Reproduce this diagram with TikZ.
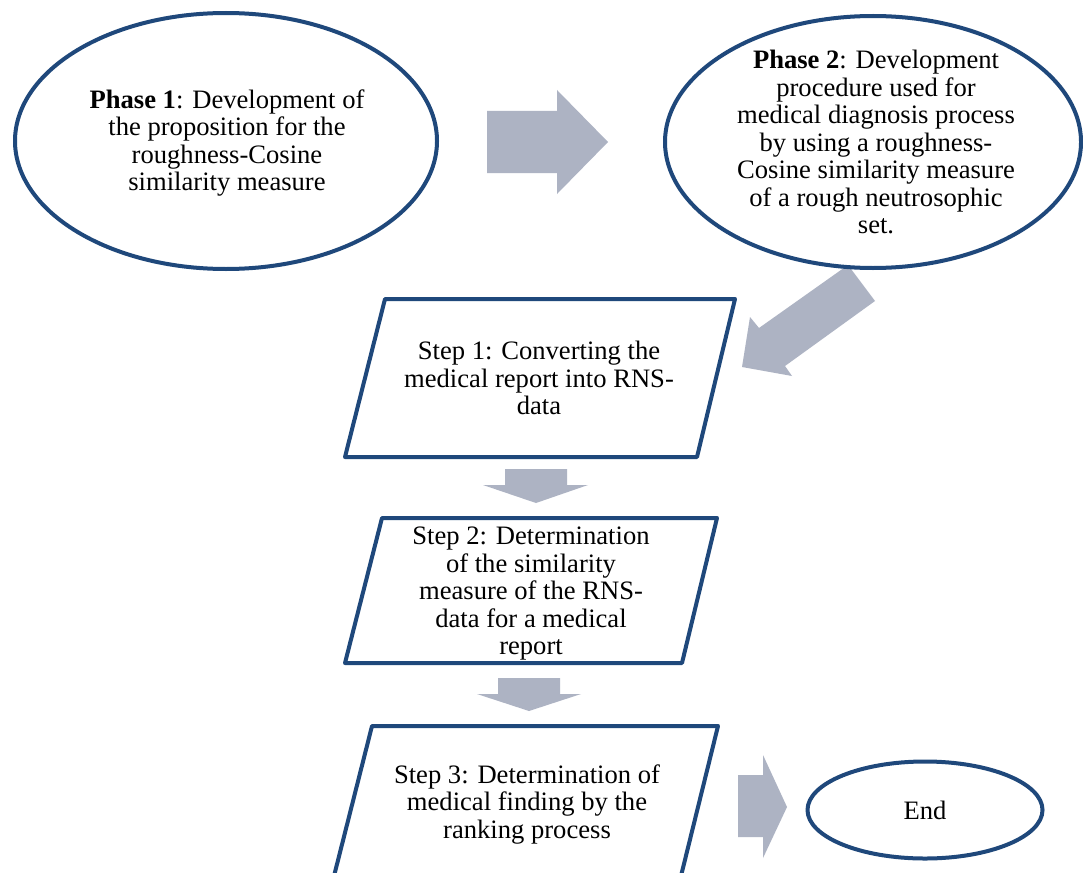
\documentclass[tikz,border=0pt]{standalone}
\usepackage{fontspec}
\setmainfont{Liberation Serif}
\usetikzlibrary{shapes.geometric}
\definecolor{frameblue}{HTML}{1F487B}
\definecolor{arrowgray}{HTML}{ADB3C3}
\tikzset{
  outline/.style={draw=frameblue, line width=4pt, line join=round, fill=white},
  oval/.style={outline, ellipse, inner sep=0pt},
  blockarrow/.style={fill=arrowgray, draw=none},
  label/.style={align=center, inner sep=0pt, font=\fontsize{26.6}{27.5}\selectfont},
}
\begin{document}
\begin{tikzpicture}[x=1pt, y=-1pt]
  \clip (0,0) rectangle (1083,872);
  \fill[white] (0,0) rectangle (1083,872);

  % block arrows (drawn first so the shapes sit on top of them)
  \fill[blockarrow] (487,111) -- (557,111) -- (557,90) -- (608,142) -- (557,194)
        -- (557,173) -- (487,173) -- cycle;
  \fill[blockarrow] (848,265) -- (875,301) -- (785,366) -- (792,376) -- (742,367)
        -- (750,317) -- (759,328) -- cycle;
  \fill[blockarrow] (505,469) -- (567,469) -- (567,485) -- (588,485) -- (536,503)
        -- (483,485) -- (505,485) -- cycle;
  \fill[blockarrow] (498,678) -- (560,678) -- (560,694) -- (581,694) -- (529,711)
        -- (477,694) -- (498,694) -- cycle;
  \fill[blockarrow] (738,775) -- (763,775) -- (763,755) -- (787,807) -- (763,858)
        -- (763,837) -- (738,837) -- cycle;

  % phases
  \node[oval, minimum width=422pt, minimum height=256pt] (phase1) at (226,141) {};
  \node[label] (phase1text) at (227,143)
    {\textbf{Phase 1}: Development of\\the proposition for the\\roughness-Cosine\\similarity measure};

  \node[oval, minimum width=416pt, minimum height=252pt] (phase2) at (873,142) {};
  \node[label] (phase2text) at (876,142)
    {\textbf{Phase 2}: Development\\procedure used for\\medical diagnosis process\\by using a roughness-\\Cosine similarity measure\\of a rough neutrosophic\\set.};

  % steps
  \coordinate (s1a) at (385,299); \coordinate (s1b) at (735,299);
  \coordinate (s1c) at (697,457); \coordinate (s1d) at (345,457);
  \draw[outline] (s1a) -- (s1b) -- (s1c) -- (s1d) -- cycle;
  \node[label] (step1) at (539,378)
    {Step 1: Converting the\\medical report into RNS-\\data};

  \coordinate (s2a) at (382,518); \coordinate (s2b) at (717,518);
  \coordinate (s2c) at (682,663); \coordinate (s2d) at (345,663);
  \draw[outline] (s2a) -- (s2b) -- (s2c) -- (s2d) -- cycle;
  \node[label] (step2) at (531,594)
    {Step 2: Determination\\of the similarity\\measure of the RNS-\\data for a medical\\report};

  \coordinate (s3a) at (372,726); \coordinate (s3b) at (718,726);
  \coordinate (s3c) at (680,880); \coordinate (s3d) at (333,880);
  \draw[outline] (s3a) -- (s3b) -- (s3c) -- (s3d) -- cycle;
  \node[label] (step3) at (527,804)
    {Step 3: Determination of\\medical finding by the\\ranking process};

  % end
  \node[oval, minimum width=235pt, minimum height=97pt] (finish) at (925,810) {};
  \node[label] (finishtext) at (925,810) {End};
\end{tikzpicture}
\end{document}
